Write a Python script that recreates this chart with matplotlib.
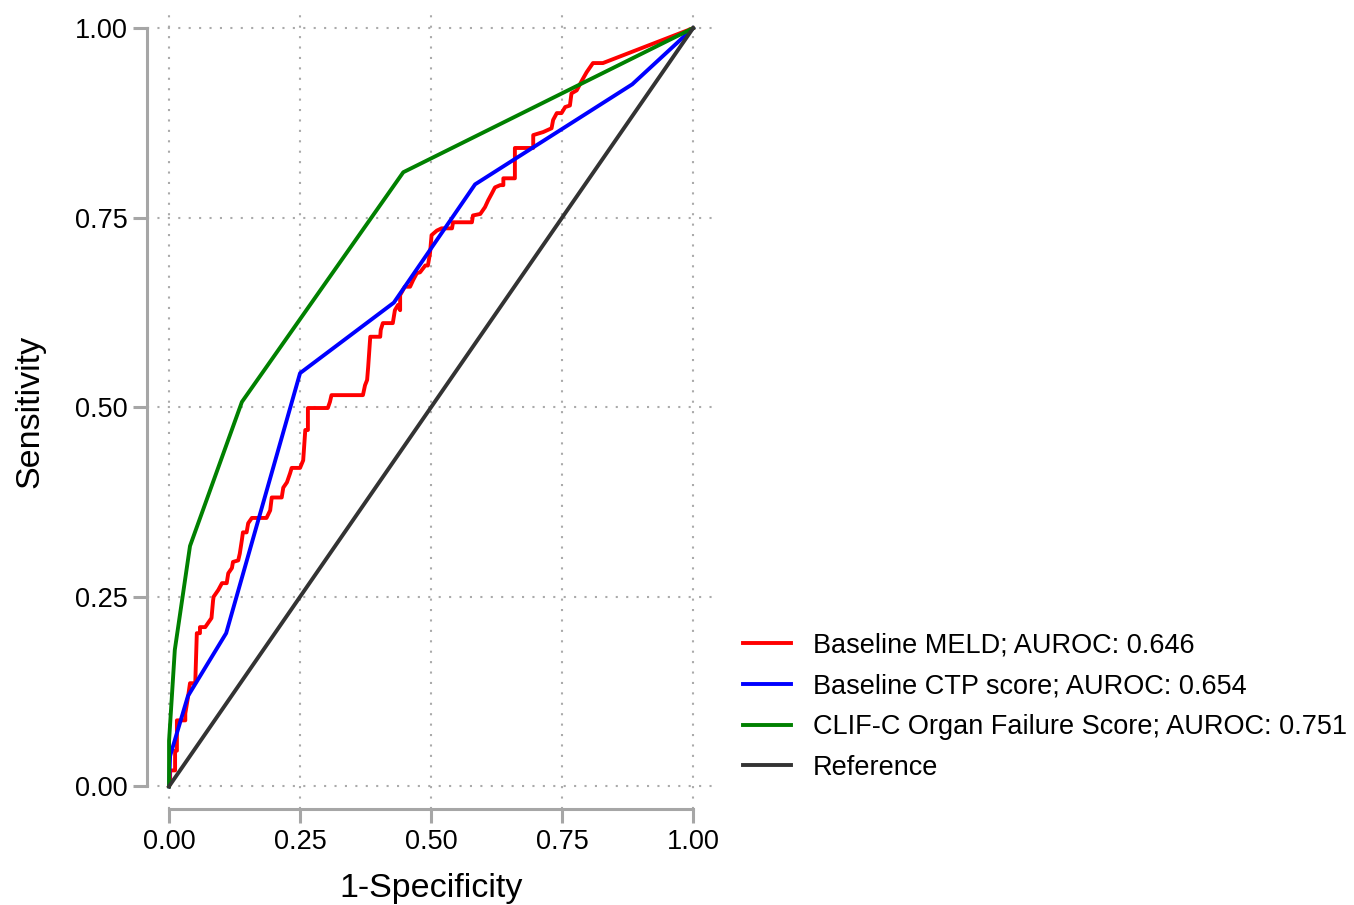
import matplotlib
matplotlib.use("Agg")
import matplotlib.pyplot as plt

plt.rcParams['font.family'] = ['Liberation Sans', 'DejaVu Sans']

# ROC curve points (1-specificity, sensitivity)
meld_fpr = [0.0, 0.002, 0.002, 0.0115, 0.0115, 0.015, 0.015, 0.031, 0.031, 0.036,
            0.040, 0.050, 0.053, 0.059, 0.059, 0.069, 0.081, 0.084, 0.085, 0.094,
            0.101, 0.110, 0.113, 0.120, 0.122, 0.132, 0.135, 0.139, 0.141, 0.148,
            0.151, 0.158, 0.186, 0.193, 0.196, 0.215, 0.218, 0.225, 0.231, 0.234,
            0.250, 0.256, 0.260, 0.265, 0.265, 0.303, 0.307, 0.310, 0.370, 0.374,
            0.378, 0.380, 0.384, 0.403, 0.404, 0.408, 0.427, 0.431, 0.437, 0.441,
            0.441, 0.450, 0.460, 0.466, 0.473, 0.479, 0.489, 0.494, 0.498, 0.501,
            0.511, 0.520, 0.540, 0.542, 0.578, 0.580, 0.594, 0.603, 0.609, 0.616,
            0.622, 0.632, 0.638, 0.638, 0.660, 0.660, 0.695, 0.695, 0.714, 0.730,
            0.733, 0.740, 0.749, 0.756, 0.765, 0.768, 0.778, 0.788, 0.797, 0.809,
            0.828, 1.0]
meld_tpr = [0.0, 0.004, 0.021, 0.021, 0.047, 0.047, 0.087, 0.087, 0.096, 0.117,
            0.136, 0.136, 0.202, 0.202, 0.210, 0.210, 0.222, 0.245, 0.250, 0.259,
            0.268, 0.268, 0.281, 0.288, 0.296, 0.298, 0.307, 0.325, 0.335, 0.335,
            0.347, 0.354, 0.354, 0.364, 0.381, 0.381, 0.394, 0.401, 0.413, 0.420,
            0.420, 0.430, 0.470, 0.470, 0.499, 0.499, 0.507, 0.516, 0.516, 0.529,
            0.536, 0.553, 0.593, 0.593, 0.602, 0.611, 0.611, 0.628, 0.635, 0.628,
            0.648, 0.659, 0.659, 0.668, 0.677, 0.678, 0.687, 0.687, 0.703, 0.727,
            0.733, 0.736, 0.736, 0.744, 0.744, 0.753, 0.755, 0.764, 0.773, 0.782,
            0.790, 0.793, 0.793, 0.802, 0.802, 0.842, 0.842, 0.859, 0.863, 0.868,
            0.879, 0.888, 0.888, 0.896, 0.898, 0.914, 0.918, 0.931, 0.942, 0.954,
            0.954, 1.0]

ctp_fpr = [0.0, 0.002, 0.036, 0.109, 0.250, 0.429, 0.584, 0.884, 1.0]
ctp_tpr = [0.0, 0.040, 0.119, 0.202, 0.545, 0.638, 0.794, 0.926, 1.0]

clif_fpr = [0.0, 0.0, 0.011, 0.040, 0.139, 0.447, 1.0]
clif_tpr = [0.0, 0.060, 0.180, 0.317, 0.507, 0.810, 1.0]

ref_line = [0.0, 1.0]

labels = ["Baseline MELD; AUROC: 0.646",
          "Baseline CTP score; AUROC: 0.654",
          "CLIF-C Organ Failure Score; AUROC: 0.751",
          "Reference"]
ticks = [0.0, 0.25, 0.5, 0.75, 1.0]
tick_labels = ["0.00", "0.25", "0.50", "0.75", "1.00"]

fig = plt.figure(figsize=(13.54, 9.05), dpi=100)
ax = fig.add_axes([0.1086, 0.106, 0.4195, 0.8796])

lw = 2.8
ax.plot(meld_fpr, meld_tpr, color="#ff0000", lw=lw, label=labels[0])
ax.plot(ctp_fpr, ctp_tpr, color="#0000ff", lw=lw, label=labels[1])
ax.plot(clif_fpr, clif_tpr, color="#008000", lw=lw, label=labels[2])
ax.plot(ref_line, ref_line, color="#333333", lw=lw, label=labels[3])

ax.set_xlim(-0.042, 1.042)
ax.set_ylim(-0.03, 1.02)
ax.set_xticks(ticks)
ax.set_xticklabels(tick_labels)
ax.set_yticks(ticks)
ax.set_yticklabels(tick_labels)

ax.grid(True, color="#aaaaaa", linestyle=(0, (1, 4)), lw=1.5)
ax.set_axisbelow(True)

for side in ["top", "right"]:
    ax.spines[side].set_visible(False)
for side in ["left", "bottom"]:
    ax.spines[side].set_color("#a6a6a6")
    ax.spines[side].set_linewidth(2.2)
    ax.spines[side].set_bounds(0, 1)

ax.tick_params(axis="both", direction="out", length=10, width=2.2,
               color="#a6a6a6", labelsize=19.5, pad=4)

ax.set_xlabel("1-Specificity", fontsize=24.5, labelpad=13)
ax.set_ylabel("Sensitivity", fontsize=24.5, labelpad=21)

leg = ax.legend(loc="center left", bbox_to_anchor=(0.5384, 0.2193),
                bbox_transform=fig.transFigure, frameon=False, fontsize=19.5,
                borderpad=0, handlelength=1.8, handletextpad=0.8,
                labelspacing=0.55)

fig.savefig("out.png", dpi=100)
